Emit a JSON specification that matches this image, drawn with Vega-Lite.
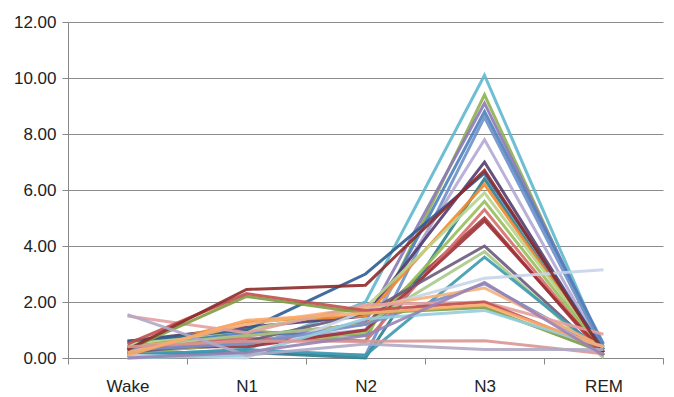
{
  "$schema": "https://vega.github.io/schema/vega-lite/v6.json",
  "autosize": {"type": "none"},
  "width": 595,
  "height": 336,
  "padding": {"left": 68, "top": 22, "right": 11, "bottom": 39},
  "background": "white",
  "config": {"view": {"stroke": null}, "font": "Liberation Sans"},
  "datasets": {
    "raw": [
      {"s": "S01", "Wake": 0.1, "N1": 0.3, "N2": 2.0, "N3": 10.1, "REM": 0.3},
      {"s": "S02", "Wake": 0.3, "N1": 1.0, "N2": 0.6, "N3": 9.4, "REM": 0.2},
      {"s": "S03", "Wake": 0.2, "N1": 0.5, "N2": 1.3, "N3": 9.1, "REM": 0.4},
      {"s": "S04", "Wake": 0.4, "N1": 0.9, "N2": 0.8, "N3": 8.8, "REM": 0.5},
      {"s": "S05", "Wake": 0.2, "N1": 0.2, "N2": 0.1, "N3": 8.6, "REM": 0.3},
      {"s": "S06", "Wake": 0.3, "N1": 0.6, "N2": 1.0, "N3": 7.8, "REM": 0.2},
      {"s": "S07", "Wake": 0.6, "N1": 1.1, "N2": 1.5, "N3": 7.0, "REM": 0.2},
      {"s": "S08", "Wake": 0.2, "N1": 0.8, "N2": 1.2, "N3": 5.0, "REM": 0.1},
      {"s": "S09", "Wake": 0.1, "N1": 0.2, "N2": 0.0, "N3": 6.4, "REM": 0.1},
      {"s": "S10", "Wake": 0.3, "N1": 1.3, "N2": 1.5, "N3": 6.2, "REM": 0.2},
      {"s": "S11", "Wake": 0.5, "N1": 1.0, "N2": 1.8, "N3": 5.9, "REM": 0.3},
      {"s": "S12", "Wake": 0.2, "N1": 0.5, "N2": 0.9, "N3": 5.6, "REM": 0.2},
      {"s": "S13", "Wake": 0.3, "N1": 0.7, "N2": 0.6, "N3": 5.3, "REM": 0.1},
      {"s": "S14", "Wake": 0.4, "N1": 0.4, "N2": 1.0, "N3": 4.9, "REM": 0.2},
      {"s": "S15", "Wake": 0.6, "N1": 1.0, "N2": 3.0, "N3": 6.6, "REM": 0.3},
      {"s": "S16", "Wake": 0.2, "N1": 0.6, "N2": 1.6, "N3": 4.0, "REM": 0.1},
      {"s": "S17", "Wake": 0.4, "N1": 0.8, "N2": 1.2, "N3": 3.8, "REM": 0.0},
      {"s": "S18", "Wake": 0.1, "N1": 0.3, "N2": 0.1, "N3": 3.6, "REM": 0.2},
      {"s": "S19", "Wake": 0.1, "N1": 0.0, "N2": 1.7, "N3": 2.85, "REM": 3.15},
      {"s": "S20", "Wake": 0.3, "N1": 0.5, "N2": 1.2, "N3": 2.65, "REM": 0.3},
      {"s": "S21", "Wake": 0.2, "N1": 1.2, "N2": 1.8, "N3": 2.5, "REM": 0.4},
      {"s": "S22", "Wake": 1.5, "N1": 0.9, "N2": 1.9, "N3": 2.0, "REM": 0.85},
      {"s": "S23", "Wake": 0.3, "N1": 2.2, "N2": 1.6, "N3": 1.8, "REM": 0.2},
      {"s": "S24", "Wake": 0.5, "N1": 2.3, "N2": 1.7, "N3": 2.0, "REM": 0.3},
      {"s": "S25", "Wake": 0.3, "N1": 2.45, "N2": 2.6, "N3": 6.7, "REM": 0.2},
      {"s": "S26", "Wake": 0.0, "N1": 0.1, "N2": 1.4, "N3": 1.7, "REM": 0.4},
      {"s": "S27", "Wake": 0.4, "N1": 0.6, "N2": 0.6, "N3": 0.62, "REM": 0.15},
      {"s": "S28", "Wake": 1.55, "N1": 0.1, "N2": 0.5, "N3": 0.3, "REM": 0.3},
      {"s": "S29", "Wake": 0.1, "N1": 1.35, "N2": 1.6, "N3": 1.9, "REM": 0.4},
      {"s": "S30", "Wake": 0.0, "N1": 0.2, "N2": 0.8, "N3": 2.7, "REM": 0.1}
    ]
  },
  "data": {"name": "raw"},
  "transform": [
    {"fold": ["Wake", "N1", "N2", "N3", "REM"], "as": ["stage", "value"]}
  ],
  "mark": {"type": "line", "strokeWidth": 3, "opacity": 0.9},
  "encoding": {
    "x": {
      "field": "stage",
      "type": "nominal",
      "sort": ["Wake", "N1", "N2", "N3", "REM"],
      "scale": {"type": "band", "paddingInner": 0, "paddingOuter": 0},
      "axis": {
        "title": null,
        "labelAngle": 0,
        "labelFontSize": 17,
        "labelColor": "#222",
        "labelPadding": 14,
        "tickBand": "extent",
        "tickSize": 6,
        "tickColor": "#888",
        "domainColor": "#888",
        "grid": false
      }
    },
    "y": {
      "field": "value",
      "type": "quantitative",
      "scale": {"domain": [0, 12], "nice": false},
      "axis": {
        "title": null,
        "values": [0, 2, 4, 6, 8, 10, 12],
        "format": ".2f",
        "labelFontSize": 17,
        "labelColor": "#222",
        "labelPadding": 6,
        "tickSize": 6,
        "tickColor": "#888",
        "domainColor": "#888",
        "grid": true,
        "gridColor": "#8c8c8c",
        "gridWidth": 1
      }
    },
    "color": {
      "field": "s",
      "type": "nominal",
      "legend": null,
      "scale": {
        "range": ["#5FB8CF", "#8DB050", "#8C79B5", "#4F7FBE", "#6A90C8", "#B3A9D4", "#533D6E", "#A33A3A", "#2C7F90", "#F28A2E", "#B8D48E", "#98BF5A", "#D46F6C", "#9F3038", "#2E5C94", "#6A5B7A", "#A9C98A", "#3C9AB0", "#C8D4E8", "#7A8FCB", "#F5B07A", "#E3A0A0", "#7E9D40", "#C0504D", "#8E2A2A", "#93CDDD", "#D99694", "#B0A8C4", "#F9AB6B", "#9983B5"]
      }
    }
  }
}
